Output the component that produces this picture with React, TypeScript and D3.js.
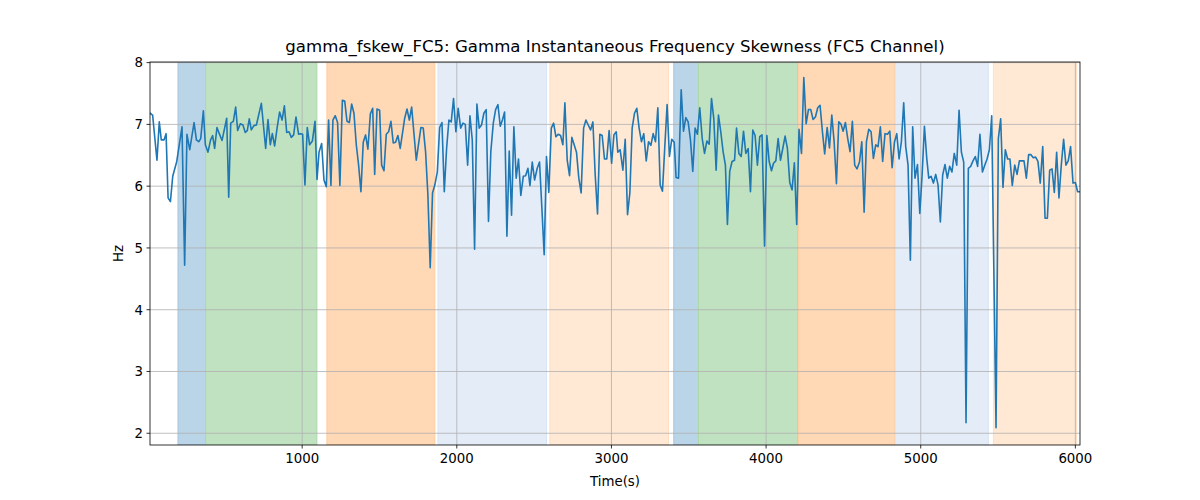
import React from 'react';
import * as d3 from 'd3';

const time = [
  16,33,61,76,89,107,120,133,148,163,189,223,240,255,273,301,316,331,344,361,374,391,408,421,434,449,464,482,512,525,538,555,570,583,600,617,632,645,658,671,688,704,736,764,779,794,807,822,839,854,870,885,900,915,930,945,960,977,990,1003,1018,1033,
  1048,1066,1083,1096,1109,1126,1141,1156,1171,1186,1199,1214,1229,1244,1260,1275,1290,1305,1320,1335,1350,1365,1380,1395,1410,1425,1441,1456,1469,1484,1501,1514,1529,1544,1559,1574,1589,1604,1619,1634,1650,1663,1678,1693,1708,1723,1738,1753,1768,1783,1798,1813,1828,1843,1859,1874,1889,1904,1919,1934,1949,1964,1979,1994,2009,2025,2040,
  2055,2070,2085,2100,2115,2130,2145,2160,2175,2190,2205,2220,2236,2251,2266,2281,2296,2309,2324,2339,2354,2369,2384,2399,2414,2430,2445,2460,2473,2488,2503,2520,2535,2550,2565,2580,2595,2611,2626,2641,2656,2671,2686,2699,2714,2729,2744,2759,2774,2789,2804,2820,2835,2850,2865,2880,2895,2910,2925,2940,2955,2970,2985,3001,3016,3031,
  3041,3056,3074,3089,3104,3119,3134,3149,3164,3179,3194,3209,3225,3240,3255,3270,3285,3300,3315,3330,3345,3360,3375,3390,3406,3418,3434,3451,3466,3481,3496,3511,3526,3541,3556,3571,3587,3602,3617,3632,3647,3662,3677,3692,3707,3722,3737,3750,3765,3780,3796,3809,3824,3839,3854,3869,3884,3899,3914,3929,3944,3959,3974,3990,4005,4020,4035,
  4048,4063,4078,4093,4108,4123,4138,4153,4168,4183,4198,4213,4229,4244,4259,4274,4289,4304,4319,4334,4349,4364,4379,4395,4410,4425,4440,4455,4470,4485,4498,4513,4528,4543,4558,4573,4588,4604,4619,4634,4649,4664,4679,4694,4709,4724,4739,4754,4769,4785,4800,4815,4830,4845,4860,4875,4890,4903,4918,4933,4948,4963,4979,4994,5009,5024,
  5039,5052,5067,5082,5097,5112,5127,5142,5157,5172,5187,5202,5217,5233,5248,5263,5278,5293,5308,5323,5338,5353,5368,5383,5399,5414,5429,5444,5459,5487,5502,5517,5532,5547,5562,5577,5592,5608,5623,5638,5653,5668,5683,5698,5713,5728,5743,5758,5773,5789,5804,5819,5834,5849,5864,5879,5894,5909,5924,5939,5954,5969,5985,6000,6015,6030
];

const hz = [
  7.18,7.15,6.42,7.04,6.75,6.75,6.85,5.81,5.75,6.16,6.40,6.96,4.72,6.84,6.59,7.03,6.75,6.72,6.77,7.22,6.67,6.55,6.75,6.82,6.61,6.95,6.85,6.74,7.10,5.82,7.02,7.05,7.28,6.90,7.01,6.99,6.87,6.90,7.09,6.91,6.98,6.99,7.34,6.61,7.08,6.67,6.85,6.65,6.96,7.20,7.07,7.30,6.87,6.88,6.79,6.83,7.12,6.84,6.85,6.84,6.02,6.95,
  6.67,6.73,7.05,6.11,6.55,6.69,6.10,5.99,7.07,6.01,7.07,7.14,7.03,6.01,7.39,7.38,7.05,7.03,7.33,7.18,6.67,6.34,5.91,6.71,6.83,6.60,7.17,7.26,6.19,7.25,7.23,6.34,6.25,6.84,6.88,7.05,6.70,6.71,6.82,6.61,6.88,7.10,7.25,7.07,7.28,6.85,6.42,6.69,6.95,6.94,6.56,5.86,4.68,5.89,6.03,6.23,6.95,7.03,5.91,6.61,7.07,7.04,7.42,6.88,7.26,6.94,7.02,
  7.00,6.34,7.14,6.75,4.98,7.33,6.94,6.99,7.18,7.24,5.43,6.56,7.02,7.24,7.32,6.97,7.08,7.20,5.19,6.57,5.53,6.96,6.13,6.44,5.85,6.16,6.17,6.29,6.01,6.39,6.10,6.29,6.39,5.65,4.89,6.48,5.90,6.94,7.02,6.80,6.84,6.82,6.67,7.35,6.42,6.17,6.79,6.67,6.55,6.13,5.89,6.94,7.07,6.99,6.91,7.04,6.18,5.55,6.84,6.82,6.44,6.44,6.90,6.37,6.83,6.88,
  6.55,6.59,6.26,6.76,5.54,5.89,6.94,7.18,7.26,6.94,6.72,6.85,6.41,6.72,6.66,6.85,6.72,7.27,6.02,5.92,6.64,7.32,6.48,6.76,6.71,6.14,6.13,7.56,6.89,7.11,7.04,6.75,6.24,6.94,6.84,7.27,6.77,6.53,6.73,6.68,7.42,7.09,6.26,7.15,6.88,6.56,6.34,5.38,6.24,6.40,6.42,6.94,6.53,6.48,6.89,6.53,6.61,5.91,6.91,6.82,6.34,6.80,6.83,5.03,6.82,6.40,6.25,
  6.37,6.41,6.77,6.42,6.61,6.81,6.61,6.06,5.94,6.38,5.38,6.92,6.53,7.76,7.01,7.24,7.24,7.08,7.12,7.27,7.31,6.89,6.52,6.95,6.62,7.15,6.72,6.04,7.04,7.00,6.89,7.03,6.77,6.56,7.05,6.34,6.28,6.39,6.72,5.58,6.72,6.92,6.88,6.45,6.67,6.64,6.96,6.40,6.85,6.84,6.89,6.30,6.71,6.85,6.44,6.72,7.35,6.64,6.34,4.80,6.96,6.13,6.35,5.56,6.18,6.97,
  6.45,6.13,6.16,6.05,6.19,6.02,5.42,6.18,6.35,6.13,6.32,6.23,6.53,6.34,7.23,6.55,6.39,2.17,6.29,6.32,6.41,6.48,6.32,6.84,6.23,6.34,6.44,6.59,7.14,2.09,6.77,7.09,5.98,6.59,6.44,6.44,6.01,6.34,6.19,6.41,6.41,6.41,6.13,6.51,6.51,6.46,6.47,6.40,6.05,6.64,5.48,5.48,6.26,6.28,5.90,6.55,5.81,6.34,6.76,6.34,6.41,6.64,6.05,6.06,5.91,5.91
];

const bandStart = [197, 376, 1160, 1878, 2602, 3403, 3563, 4209, 4836, 5470];
const bandEnd = [376, 1095, 1858, 2580, 3369, 3563, 4205, 4832, 5437, 6008];
const bandKind = ['blue', 'green', 'orange', 'lightblue', 'lightorange', 'blue', 'green', 'orange', 'lightblue', 'lightorange'];

const xTicks = [1000, 2000, 3000, 4000, 5000, 6000];
const yTicks = [2, 3, 4, 5, 6, 7, 8];

const titleText = 'gamma_fskew_FC5: Gamma Instantaneous Frequency Skewness (FC5 Channel)';
const xLabel = 'Time(s)';
const yLabel = 'Hz';

const kindFill: Record<string, string> = {
  blue: '#bbd5e8',
  green: '#c0e2c0',
  orange: '#ffd8b6',
  lightblue: '#e4ecf7',
  lightorange: '#ffe8d4',
};
const kindStroke: Record<string, string> = {
  blue: '#a6c7e0',
  green: '#acd8ac',
  orange: '#ffcb9c',
  lightblue: '#d8e4f3',
  lightorange: '#ffdfc3',
};

export default function App() {
  const W = 1200, H = 500;
  const L = 150, R = 1080, T = 62, B = 445;
  const x = d3.scaleLinear().domain([16, 6030]).range([L, R]);
  const y = d3.scaleLinear().domain([1.81, 8.01]).range([B, T]);
  const pts: [number, number][] = time.map((t, i) => [t, hz[i]]);
  const line = d3.line<[number, number]>().x(d => x(d[0])).y(d => y(d[1]));
  const font = 'DejaVu Sans, sans-serif';
  return (
    <svg width={W} height={H} style={{ position: 'absolute', left: 0, top: 0, background: '#fff' }} fontFamily={font}>
      <rect x={0} y={0} width={W} height={H} fill="#fff" />
      <defs>
        <clipPath id="plotclip">
          <rect x={L} y={T} width={R - L} height={B - T} />
        </clipPath>
      </defs>
      <g clipPath="url(#plotclip)">
        {bandStart.map((s, i) => (
          <rect key={i} x={x(s)} y={T} width={x(bandEnd[i]) - x(s)} height={B - T}
            fill={kindFill[bandKind[i]]} stroke={kindStroke[bandKind[i]]} strokeWidth={1} />
        ))}
        {xTicks.map(t => (
          <line key={'gx' + t} x1={x(t)} x2={x(t)} y1={T} y2={B} stroke="#b0b0b0" strokeWidth={0.8} />
        ))}
        {yTicks.map(t => (
          <line key={'gy' + t} x1={L} x2={R} y1={y(t)} y2={y(t)} stroke="#b0b0b0" strokeWidth={0.8} />
        ))}
        <path d={line(pts) || ''} fill="none" stroke="#1f77b4" strokeWidth={1.6} strokeLinejoin="round" strokeLinecap="square" />
      </g>
      <rect x={L} y={T} width={R - L} height={B - T} fill="none" stroke="#000" strokeWidth={0.8} />
      {xTicks.map(t => (
        <g key={'tx' + t}>
          <line x1={x(t)} x2={x(t)} y1={B} y2={B + 3.5} stroke="#000" strokeWidth={0.8} />
          <text x={x(t)} y={B + 18} fontSize={13.33} textAnchor="middle" fill="#000">{t}</text>
        </g>
      ))}
      {yTicks.map(t => (
        <g key={'ty' + t}>
          <line x1={L - 3.5} x2={L} y1={y(t)} y2={y(t)} stroke="#000" strokeWidth={0.8} />
          <text x={L - 7} y={y(t) + 4.8} fontSize={13.33} textAnchor="end" fill="#000">{t}</text>
        </g>
      ))}
      <text x={(L + R) / 2} y={52} fontSize={16.6} textAnchor="middle" fill="#000">{titleText}</text>
      <text x={(L + R) / 2} y={486} fontSize={13.33} textAnchor="middle" fill="#000">{xLabel}</text>
      <text transform={`translate(123, ${(T + B) / 2}) rotate(-90)`} fontSize={13.33} textAnchor="middle" fill="#000">{yLabel}</text>
    </svg>
  );
}
